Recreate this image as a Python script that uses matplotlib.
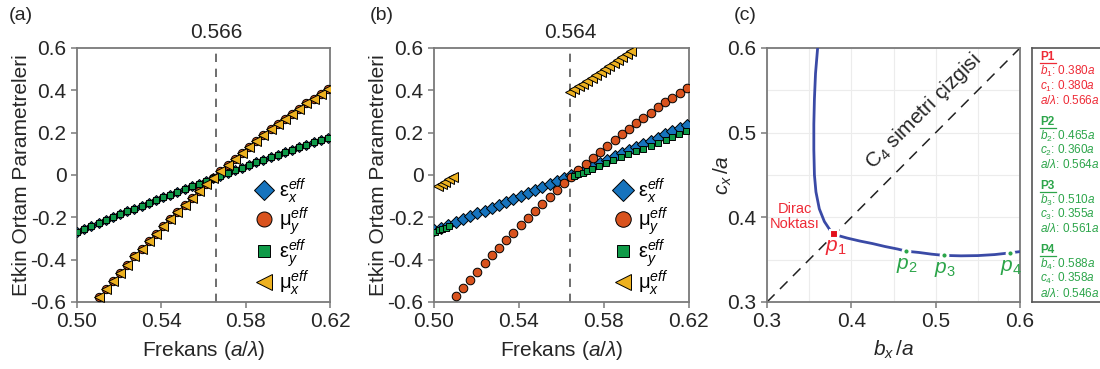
import matplotlib.pyplot as plt
from matplotlib.transforms import blended_transform_factory

plt.rcParams['font.family'] = ['Liberation Sans', 'DejaVu Sans']
plt.rcParams['mathtext.fontset'] = 'custom'
plt.rcParams['mathtext.rm'] = 'Liberation Sans'
plt.rcParams['mathtext.it'] = 'Liberation Sans:italic'
plt.rcParams['mathtext.bf'] = 'Liberation Sans:bold'

# ---- data ----
freq = [0.5000, 0.5034, 0.5068, 0.5102, 0.5136, 0.5170, 0.5204, 0.5238, 0.5272,
        0.5306, 0.5340, 0.5374, 0.5408, 0.5442, 0.5476, 0.5510, 0.5544, 0.5578,
        0.5612, 0.5646, 0.5680, 0.5714, 0.5748, 0.5782, 0.5816, 0.5850, 0.5884,
        0.5918, 0.5952, 0.5986, 0.6020, 0.6054, 0.6088, 0.6122, 0.6156, 0.6190]
freq_mu = freq[3:]

# (a) eps_x = eps_y, mu_x = mu_y
eps_a = [-0.268, -0.254, -0.240, -0.227, -0.213, -0.199, -0.186, -0.172, -0.159,
         -0.145, -0.132, -0.119, -0.106, -0.093, -0.080, -0.067, -0.054, -0.041,
         -0.028, -0.016, -0.003, 0.010, 0.022, 0.034, 0.047, 0.059, 0.071,
         0.083, 0.095, 0.107, 0.119, 0.131, 0.143, 0.154, 0.166, 0.177]
mu_a = [-0.578, -0.538, -0.499, -0.461, -0.423, -0.385, -0.349, -0.313, -0.277,
        -0.242, -0.207, -0.173, -0.140, -0.107, -0.075, -0.044, -0.013, 0.018,
        0.048, 0.077, 0.106, 0.134, 0.161, 0.188, 0.215, 0.240, 0.266, 0.290,
        0.314, 0.338, 0.361, 0.383, 0.405]

# (b)
eps_x_b = [-0.262, -0.249, -0.235, -0.222, -0.209, -0.195, -0.181, -0.168, -0.154,
           -0.140, -0.127, -0.113, -0.099, -0.085, -0.071, -0.057, -0.042, -0.028,
           -0.014, 0.000, 0.015, 0.029, 0.044, 0.058, 0.073, 0.088, 0.102, 0.117,
           0.132, 0.147, 0.162, 0.177, 0.192, 0.207, 0.222, 0.238]
mu_y_b = [-0.573, -0.533, -0.494, -0.456, -0.418, -0.380, -0.344, -0.308, -0.272,
          -0.237, -0.202, -0.168, -0.135, -0.102, -0.070, -0.039, -0.008, 0.022,
          0.052, 0.081, 0.110, 0.138, 0.166, 0.193, 0.219, 0.245, 0.270, 0.295,
          0.319, 0.343, 0.366, 0.388, 0.410]
eps_y_b_lo_f = [0.5005, 0.5022, 0.5039, 0.5056, 0.5073]
eps_y_b_lo = [-0.268, -0.262, -0.256, -0.250, -0.243]
eps_y_b_hi_f = [0.5660, 0.5680, 0.5700, 0.5720, 0.5745, 0.5775, 0.5810, 0.5845, 0.5880,
                0.5915, 0.5950, 0.5985, 0.6020, 0.6055, 0.6090, 0.6120, 0.6155, 0.6188]
eps_y_b_hi = [-0.005, 0.003, 0.011, 0.019, 0.029, 0.041, 0.055, 0.069, 0.083,
              0.097, 0.111, 0.125, 0.139, 0.153, 0.167, 0.179, 0.193, 0.206]
mu_x_b_lo_f = [0.5020, 0.5037, 0.5054, 0.5071, 0.5088]
mu_x_b_lo = [-0.052, -0.041, -0.031, -0.020, -0.010]
mu_x_b_hi_f = [0.5640, 0.5661, 0.5681, 0.5702, 0.5722, 0.5743, 0.5763, 0.5784,
               0.5805, 0.5825, 0.5846, 0.5866, 0.5887, 0.5907, 0.5928]
mu_x_b_hi = [0.390, 0.404, 0.418, 0.432, 0.446, 0.460, 0.474, 0.488,
             0.502, 0.516, 0.530, 0.544, 0.558, 0.572, 0.586]

# (c) Dirac point curve
br1_b = [0.3600, 0.3575, 0.3562, 0.3555, 0.3555, 0.3562, 0.3580, 0.3620, 0.3680, 0.3740, 0.3770]
br1_c = [0.600, 0.570, 0.540, 0.510, 0.480, 0.450, 0.430, 0.410, 0.395, 0.386, 0.382]
br2_b = [0.386, 0.395, 0.410, 0.425, 0.440, 0.455, 0.465, 0.480, 0.495, 0.510,
         0.530, 0.550, 0.570, 0.588, 0.600]
br2_c = [0.378, 0.3755, 0.372, 0.369, 0.3655, 0.3625, 0.360, 0.3585, 0.3565, 0.355,
         0.3545, 0.3548, 0.356, 0.358, 0.3595]
pt_names = ['P1', 'P2', 'P3', 'P4']
pt_b = [0.380, 0.465, 0.510, 0.588]
pt_c = [0.380, 0.360, 0.355, 0.358]
pt_f = [0.566, 0.564, 0.561, 0.546]

C_BLUE = '#1673bd'
C_ORANGE = '#d9531e'
C_GREEN = '#0f9a48'
C_YELLOW = '#edb120'
C_RED = '#ee2a36'
C_PGREEN = '#2ca54a'
C_SPINE = '#7a7a7a'
C_TXT = '#262626'

fig = plt.figure(figsize=(11, 3.69), dpi=100)

lab_ex = r'$\mathrm{ε}_{x}^{eff}$'
lab_my = r'$\mathrm{μ}_{y}^{eff}$'
lab_ey = r'$\mathrm{ε}_{y}^{eff}$'
lab_mx = r'$\mathrm{μ}_{x}^{eff}$'
mk = dict(markeredgecolor='black', markeredgewidth=0.7, linestyle='none')


def style_common(ax):
    for s in ax.spines.values():
        s.set_color(C_SPINE)
        s.set_linewidth(1.3)
    ax.tick_params(colors=C_SPINE, labelcolor=C_TXT, labelsize=15, length=4, width=1.1)


def style_freq_axis(ax, vline):
    ax.set_xlim(0.50, 0.62)
    ax.set_ylim(-0.6, 0.6)
    ax.set_xticks([0.50, 0.54, 0.58, 0.62])
    ax.set_xticklabels(['0.50', '0.54', '0.58', '0.62'])
    ax.set_yticks([-0.6, -0.4, -0.2, 0, 0.2, 0.4, 0.6])
    ax.set_yticklabels(['-0.6', '-0.4', '-0.2', '0', '0.2', '0.4', '0.6'])
    ax.axvline(vline, color='#555555', lw=1.2, dashes=(5, 4), zorder=1)
    tr = blended_transform_factory(ax.transData, ax.transAxes)
    ax.text(vline, 1.06, f'{vline:.3f}', transform=tr, ha='center', va='center',
            fontsize=15, color=C_TXT)
    ax.set_xlabel(r'Frekans ($a/\lambda$)', fontsize=15, color=C_TXT)
    ax.set_ylabel('Etkin Ortam Parametreleri', fontsize=15, color=C_TXT)
    ax.yaxis.set_label_coords(-0.18, 0.5)
    ax.xaxis.set_label_coords(0.5, -0.145)
    ax.legend(loc='upper left', bbox_to_anchor=(0.665, 0.535), frameon=False,
              fontsize=14.5, markerscale=1.8, handlelength=0.9, handletextpad=0.3,
              labelspacing=0.0, borderpad=0)


# (a)
ax1 = fig.add_axes([0.070, 0.1816, 0.230, 0.6884])
ax1.plot(freq, eps_a, marker='D', ms=5.5, color=C_BLUE, label=lab_ex, zorder=3, **mk)
ax1.plot(freq_mu, mu_a, marker='o', ms=6, color=C_ORANGE, label=lab_my, zorder=3, **mk)
ax1.plot(freq, eps_a, marker='s', ms=4.8, color=C_GREEN, label=lab_ey, zorder=4, **mk)
ax1.plot(freq_mu, mu_a, marker='<', ms=6.5, color=C_YELLOW, label=lab_mx, zorder=4, **mk)
style_common(ax1)
style_freq_axis(ax1, 0.566)

# (b)
ax2 = fig.add_axes([0.3945, 0.1816, 0.2318, 0.6884])
ax2.plot(freq, eps_x_b, marker='D', ms=6, color=C_BLUE, label=lab_ex, zorder=3, **mk)
ax2.plot(freq_mu, mu_y_b, marker='o', ms=6.2, color=C_ORANGE, label=lab_my, zorder=3, **mk)
ax2.plot(eps_y_b_lo_f, eps_y_b_lo, marker='s', ms=5, color=C_GREEN, label=lab_ey, zorder=4, **mk)
ax2.plot(eps_y_b_hi_f, eps_y_b_hi, marker='s', ms=5, color=C_GREEN, zorder=4, **mk)
ax2.plot(mu_x_b_lo_f, mu_x_b_lo, marker='<', ms=6.5, color=C_YELLOW, label=lab_mx, zorder=4, **mk)
ax2.plot(mu_x_b_hi_f, mu_x_b_hi, marker='<', ms=6.5, color=C_YELLOW, zorder=4, **mk)
style_common(ax2)
style_freq_axis(ax2, 0.564)

# (c)
ax3 = fig.add_axes([0.6973, 0.1816, 0.2300, 0.6884])
ax3.set_xlim(0.3, 0.6)
ax3.set_ylim(0.3, 0.6)
ax3.set_xticks([0.3, 0.4, 0.5, 0.6])
ax3.set_yticks([0.3, 0.4, 0.5, 0.6])
ax3.set_xticks([0.35, 0.45, 0.55], minor=True)
ax3.set_yticks([0.35, 0.45, 0.55], minor=True)
ax3.set_xticklabels(['0.3', '0.4', '0.5', '0.6'])
ax3.set_yticklabels(['0.3', '0.4', '0.5', '0.6'])
ax3.tick_params(which='minor', length=0)
ax3.grid(which='both', color='#ececec', lw=0.8, zorder=0)
ax3.plot([0.3, 0.6], [0.3, 0.6], color='#222222', lw=1.1, dashes=(7, 5), zorder=2)
ax3.plot(br1_b, br1_c, color='#3a4aa6', lw=2, zorder=3, solid_capstyle='butt')
ax3.plot(br2_b, br2_c, color='#3a4aa6', lw=2, zorder=3, solid_capstyle='butt')
ax3.plot(pt_b[:1], pt_c[:1], marker='s', ms=6, color='#e3101c', mec='white', mew=1.5,
         ls='none', zorder=5)
ax3.plot(pt_b[1:], pt_c[1:], marker='o', ms=5, color=C_PGREEN, mec='white', mew=2,
         ls='none', zorder=5)
ax3.text(pt_b[0] + 0.001, pt_c[0] - 0.016, r'$p_1$', color=C_RED, fontsize=15, ha='center', va='center')
for i in range(1, 4):
    ax3.text(pt_b[i] + 0.001, pt_c[i] - 0.017, rf'$p_{i + 1}$', color=C_PGREEN, fontsize=15,
             ha='center', va='center')
ax3.text(0.333, 0.401, 'Dirac\nNoktası', color=C_RED, fontsize=10.5, ha='center',
         va='center', linespacing=1.1)
ax3.text(0.486, 0.525, r'C$_4$ simetri çizgisi', rotation=45, fontsize=15, color=C_TXT,
         ha='center', va='center', rotation_mode='anchor')
style_common(ax3)
ax3.set_xlabel(r'$b_x\,/a$', fontsize=15, color=C_TXT)
ax3.set_ylabel(r'$c_x\,/a$', fontsize=15, color=C_TXT)
ax3.yaxis.set_label_coords(-0.13, 0.5)
ax3.xaxis.set_label_coords(0.5, -0.145)

# info box for (c)
axl = fig.add_axes([0.9382, 0.1816, 0.08, 0.6884])
axl.set_xticks([])
axl.set_yticks([])
for s in axl.spines.values():
    s.set_color('#555555')
    s.set_linewidth(1.2)
block_top = [0.963, 0.710, 0.457, 0.204]
step = 0.0565
for i in range(4):
    col = C_RED if i == 0 else C_PGREEN
    y0 = block_top[i]
    n = i + 1
    axl.text(0.09, y0, pt_names[i], color=col, fontsize=8.5, fontweight='bold',
             ha='left', va='center', transform=axl.transAxes)
    axl.plot([0.09, 0.27], [y0 - 0.024, y0 - 0.024], color=col, lw=0.9,
             transform=axl.transAxes, clip_on=False)
    axl.text(0.09, y0 - step, rf'$b_{n}$: {pt_b[i]:.3f}$a$', color=col, fontsize=8.5,
             ha='left', va='center', transform=axl.transAxes)
    axl.text(0.09, y0 - 2 * step, rf'$c_{n}$: {pt_c[i]:.3f}$a$', color=col, fontsize=8.5,
             ha='left', va='center', transform=axl.transAxes)
    axl.text(0.09, y0 - 3 * step, rf'$a/\lambda$: {pt_f[i]:.3f}$a$', color=col, fontsize=8.5,
             ha='left', va='center', transform=axl.transAxes)

# panel labels
fig.text(21 / 1100, 1 - 15 / 369, '(a)', fontsize=14, ha='center', va='center', color=C_TXT)
fig.text(382 / 1100, 1 - 15 / 369, '(b)', fontsize=14, ha='center', va='center', color=C_TXT)
fig.text(745 / 1100, 1 - 15 / 369, '(c)', fontsize=14, ha='center', va='center', color=C_TXT)

fig.savefig('out.png', dpi=100)
